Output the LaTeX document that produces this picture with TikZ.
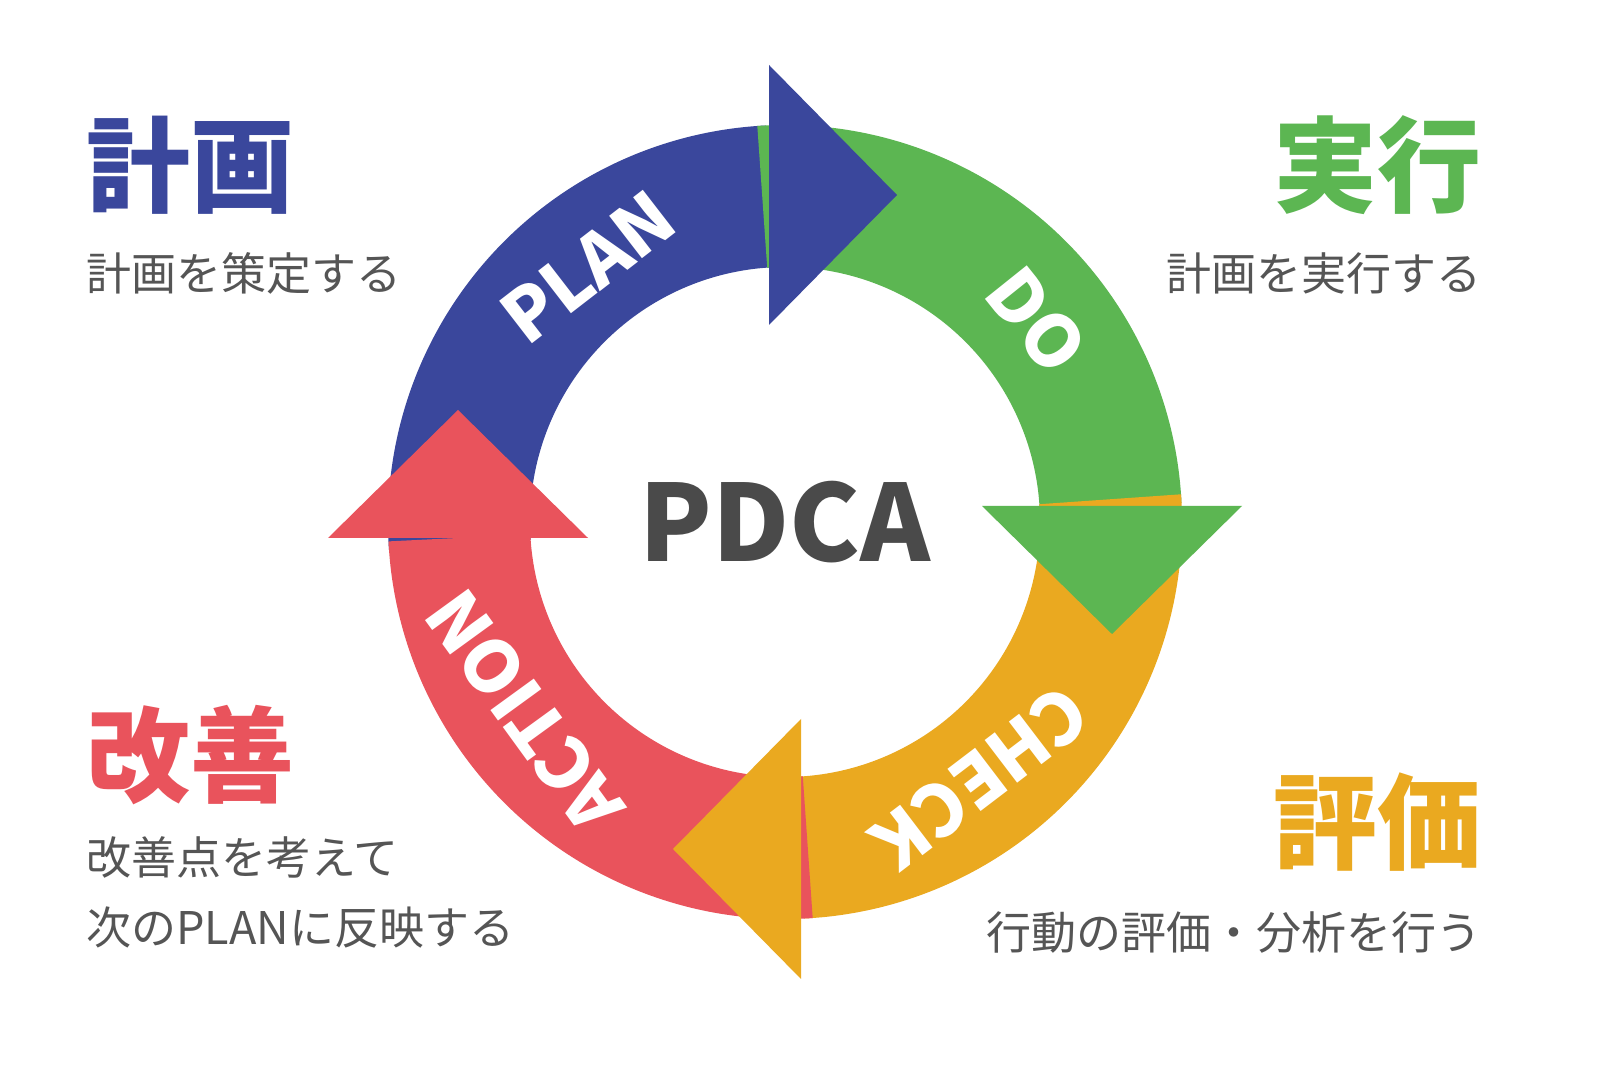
\documentclass[tikz,border=0pt]{standalone}
\usepackage{fontspec}
\usetikzlibrary{calc}
\setmainfont{Noto Sans CJK JP}
\definecolor{cblue}{HTML}{3A479C}
\definecolor{cgreen}{HTML}{5CB652}
\definecolor{cyellow}{HTML}{EAA920}
\definecolor{cred}{HTML}{E9535C}
\definecolor{cgray}{HTML}{555555}
\definecolor{cdark}{HTML}{4A4A4A}
\begin{document}
\begin{tikzpicture}[x=1pt,y=1pt,
  ringlabel/.style={text=white,font=\bfseries\fontsize{72}{72}\selectfont,inner sep=0pt},
  title/.style={font=\bfseries\fontsize{104}{104}\selectfont,inner sep=0pt},
  sub/.style={text=cgray,font=\fontsize{45}{70}\selectfont,inner sep=0pt,align=left}]
\useasboundingbox (0,0) rectangle (1599,1066);
\fill[white] (0,0) rectangle (1599,1066);
\coordinate (c) at (785,544);
% rings
\foreach \r/\col in {0/cblue,-90/cgreen,-180/cyellow,-270/cred}{
  \fill[\col,rotate around={\r:(c)}] ($(c)+(184:397)$) arc[start angle=184,end angle=92.8,radius=397]
    -- ($(c)+(92.8:255)$) arc[start angle=92.8,end angle=184,radius=255] -- cycle;
}
% heads
\foreach \r/\col in {0/cblue,-90/cgreen,-180/cyellow,-270/cred}{
  \fill[\col,rotate around={\r:(c)}] ($(c)+(-16,197)$) -- ($(c)+(-16,457)$) -- ($(c)+(112,327)$) -- cycle;
}
\node[ringlabel,rotate=37.7] (plan) at ($(c)+(127.7:322)$) {PLAN};
\node[ringlabel,rotate=-51.3] (do) at ($(c)+(38.7:322)$) {DO};
\node[ringlabel,rotate=-142.7] (check) at ($(c)+(-52.7:322)$) {CHECK};
\node[ringlabel,rotate=126] (action) at ($(c)+(-144:322)$) {ACTION};
\node[text=cdark,font=\bfseries\fontsize{106}{106}\selectfont,inner sep=0pt] (pdca) at (c) {PDCA};
% titles
\node[title,text=cblue,anchor=west] (t1) at (86,901) {計画};
\node[sub,anchor=west] (s1) at (86,793) {計画を策定する};
\node[title,text=cgreen,anchor=east] (t2) at (1482,901) {実行};
\node[sub,anchor=east] (s2) at (1482,793) {計画を実行する};
\node[title,text=cred,anchor=west] (t3) at (86,311) {改善};
\node[sub,anchor=north west] (s3) at (86,230) {改善点を考えて\\次のPLANに反映する};
\node[title,text=cyellow,anchor=east] (t4) at (1482,244) {評価};
\node[sub,anchor=east] (s4) at (1482,134) {行動の評価・分析を行う};
\end{tikzpicture}
\end{document}
